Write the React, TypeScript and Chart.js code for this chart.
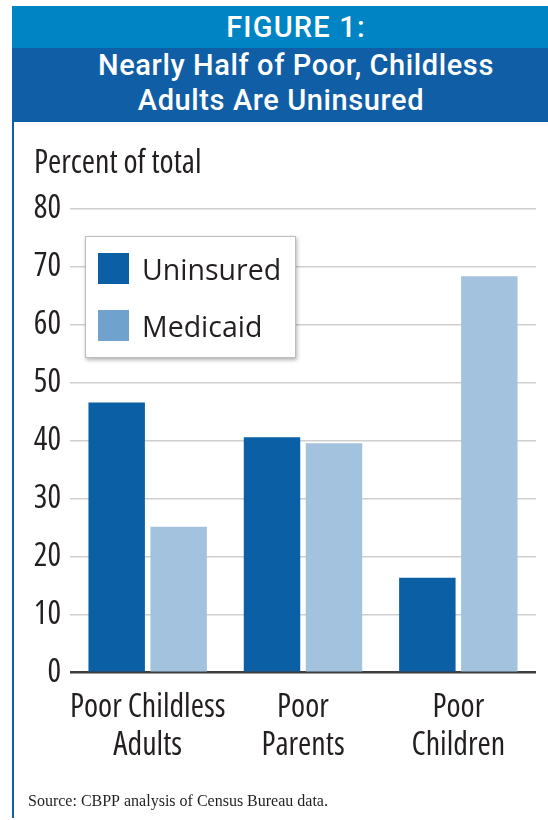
import React, { useEffect, useRef } from "react";
import { Chart, registerables } from "chart.js";

Chart.register(...registerables);

const categories: string[][] = [["Poor Childless", "Adults"], ["Poor", "Parents"], ["Poor", "Children"]];
const seriesNames = ["Uninsured", "Medicaid"];
const uninsured = [46.6, 40.6, 16.4];
const medicaid = [25.2, 39.6, 68.4];
const yTicks = [0, 10, 20, 30, 40, 50, 60, 70, 80];

const BAR_DARK = "#0B5FA4";
const BAR_LIGHT = "#A3C2DD";
const SWATCH_LIGHT = "#6FA2CD";
const COND = '"Open Sans", "DejaVu Sans Condensed", sans-serif';
const COND_W = "semi-condensed";

const overlayPlugin = {
  id: "overlay",
  afterDraw(chart: any) {
    const ctx = chart.ctx;
    const ca = chart.chartArea;
    ctx.save();
    // y axis caption
    ctx.fillStyle = "#231f20";
    ctx.font = `${COND_W} 32px ${COND}`;
    ctx.textAlign = "left";
    ctx.textBaseline = "alphabetic";
    ctx.fillText("Percent of total", 34, 51);

    // legend box
    const bx = ca.left + 15;
    const by = ca.top + 27;
    const bw = 211;
    const bh = 122;
    ctx.shadowColor = "rgba(0,0,0,0.3)";
    ctx.shadowBlur = 4;
    ctx.shadowOffsetX = 1;
    ctx.shadowOffsetY = 2;
    ctx.fillStyle = "#ffffff";
    ctx.fillRect(bx, by, bw, bh);
    ctx.shadowColor = "transparent";
    ctx.strokeStyle = "#bdbdbd";
    ctx.lineWidth = 1;
    ctx.strokeRect(bx + 0.5, by + 0.5, bw - 1, bh - 1);
    const sw = [BAR_DARK, SWATCH_LIGHT];
    chart.data.datasets.forEach((ds: any, i: number) => {
      const sy = by + 17 + i * 57;
      ctx.fillStyle = sw[i];
      ctx.fillRect(bx + 13, sy, 31, 31);
      ctx.fillStyle = "#231f20";
      ctx.font = '28.5px "Open Sans", sans-serif';
      ctx.textBaseline = "middle";
      ctx.fillText(ds.label, bx + 57, sy + 19);
    });

    // source
    ctx.fillStyle = "#231f20";
    ctx.font = '16px "Liberation Serif", serif';
    ctx.textBaseline = "alphabetic";
    ctx.fillText("Source: CBPP analysis of Census Bureau data.", 28, 684);
    ctx.restore();
  },
};

export default function App() {
  const ref = useRef<HTMLCanvasElement | null>(null);
  useEffect(() => {
    if (!ref.current) return;
    const chart = new Chart(ref.current, {
      type: "bar",
      data: {
        labels: categories,
        datasets: [
          { label: seriesNames[0], data: uninsured, backgroundColor: BAR_DARK },
          { label: seriesNames[1], data: medicaid, backgroundColor: BAR_LIGHT },
        ],
      },
      options: {
        animation: false,
        responsive: false,
        devicePixelRatio: 1,
        layout: { padding: { left: 0, right: 12, top: 87, bottom: 0 } },
        datasets: { bar: { categoryPercentage: 0.798, barPercentage: 0.911 } },
        plugins: { legend: { display: false }, tooltip: { enabled: false }, title: { display: false } },
        scales: {
          x: {
            grid: { display: false, drawTicks: false },
            border: { display: false },
            ticks: {
              padding: 16,
              color: "#231f20",
              font: { family: COND, size: 32, weight: COND_W as any, lineHeight: 1.19 },
              maxRotation: 0,
              autoSkip: false,
            },
            afterFit(scale: any) {
              scale.height = 147.3;
            },
          },
          y: {
            min: 0,
            max: 80,
            afterBuildTicks(scale: any) {
              scale.ticks = yTicks.map((v) => ({ value: v }));
            },
            afterFit(scale: any) {
              scale.width = 70;
            },
            border: { display: false },
            grid: {
              drawTicks: false,
              color: (c: any) => (c.tick && c.tick.value === 0 ? "#3d3d3d" : "#cfcfcf"),
              lineWidth: (c: any) => (c.tick && c.tick.value === 0 ? 2.5 : 1.5),
            },
            ticks: {
              padding: 9,
              color: "#231f20",
              font: { family: COND, size: 32, weight: COND_W as any },
            },
          },
        },
      },
      plugins: [overlayPlugin],
    });
    return () => chart.destroy();
  }, []);

  return (
    <div style={{ position: "absolute", left: 0, top: 0, width: 548, height: 820, background: "#fff", overflow: "hidden" }}>
      <div style={{ position: "absolute", left: 12, top: 6, width: 2, height: 812, background: "#0F60A8" }} />
      <div
        style={{
          position: "absolute",
          left: 12,
          top: 6,
          width: 536,
          height: 42,
          background: "#0084C4",
          color: "#fff",
          fontFamily: "Roboto, sans-serif",
          fontWeight: 500,
          fontSize: 29,
          letterSpacing: "1.2px",
          lineHeight: "42px",
        }}
      >
        <div style={{ position: "absolute", left: 0, width: 568, textAlign: "center", top: 0 }}>FIGURE 1:</div>
      </div>
      <div
        style={{
          position: "absolute",
          left: 12,
          top: 48,
          width: 536,
          height: 74,
          background: "#105EA6",
          color: "#fff",
          fontFamily: "Roboto, sans-serif",
          fontWeight: 500,
          fontSize: 29,
          letterSpacing: "0.6px",
          lineHeight: "36px",
        }}
      >
        <div style={{ position: "absolute", left: 0, width: 568, textAlign: "center", top: -1 }}>Nearly Half of Poor, Childless</div>
        <div style={{ position: "absolute", left: 0, width: 538, textAlign: "center", top: 34 }}>Adults Are Uninsured</div>
      </div>
      <canvas ref={ref} width={548} height={698} style={{ position: "absolute", left: 0, top: 122, width: 548, height: 698 }} />
    </div>
  );
}
